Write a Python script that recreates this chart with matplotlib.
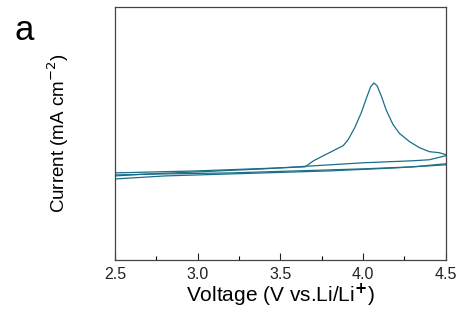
import numpy as np
import matplotlib.pyplot as plt
from matplotlib.ticker import MultipleLocator

plt.rcParams['font.family'] = ['Liberation Sans', 'DejaVu Sans']

# first cycle, anodic sweep (with the oxidation peak)
v_fwd1 = [2.5, 3.0, 3.5, 3.65, 3.70, 3.76, 3.82, 3.88, 3.91, 3.95, 3.99, 4.02, 4.045, 4.065,
          4.085, 4.11, 4.14, 4.18, 4.22, 4.28, 4.34, 4.40, 4.46, 4.5]
i_fwd1 = [0.0, 0.02, 0.05, 0.06, 0.12, 0.17, 0.22, 0.27, 0.33, 0.45, 0.60, 0.74, 0.85, 0.89,
          0.86, 0.76, 0.62, 0.48, 0.39, 0.31, 0.25, 0.21, 0.20, 0.18]
# first cycle, cathodic sweep
v_rev1 = [4.5, 4.2, 3.8, 3.4, 3.0, 2.8, 2.6, 2.5]
i_rev1 = [0.08, 0.05, 0.02, -0.0, -0.02, -0.03, -0.05, -0.06]
# second cycle, anodic sweep
v_fwd2 = [2.5, 2.7, 3.0, 3.4, 3.7, 4.0, 4.3, 4.4, 4.5]
i_fwd2 = [-0.03, -0.01, 0.01, 0.04, 0.07, 0.10, 0.12, 0.13, 0.17]
# second cycle, cathodic sweep
v_rev2 = [4.5, 4.3, 4.0, 3.6, 3.2, 2.8, 2.5]
i_rev2 = [0.09, 0.06, 0.04, 0.02, 0.0, -0.01, -0.02]

color = '#1b6e87'

fig = plt.figure(figsize=(4.62, 3.22), dpi=100)
ax = fig.add_axes([0.249, 0.193, 0.716, 0.785])

for v, i in [(v_fwd1, i_fwd1), (v_rev1, i_rev1), (v_fwd2, i_fwd2), (v_rev2, i_rev2)]:
    ax.plot(v, i, color=color, lw=0.9)

ax.set_xlim(2.5, 4.5)
ax.set_ylim(-0.86, 1.64)
ax.set_xticks([2.5, 3.0, 3.5, 4.0, 4.5])
ax.set_xticklabels(['2.5', '3.0', '3.5', '4.0', '4.5'])
ax.xaxis.set_minor_locator(MultipleLocator(0.25))
ax.set_yticks([])
ax.tick_params(axis='x', which='major', direction='in', length=5, width=0.8, labelsize=11.5, colors='#222222', pad=5)
ax.tick_params(axis='x', which='minor', direction='in', length=3, width=0.8)
for s in ax.spines.values():
    s.set_color('#444444')
    s.set_linewidth(0.9)

ax.set_xlabel('Voltage (V vs.Li/Li$^{\\mathbf{+}}$)', fontsize=15, labelpad=0)
ax.set_ylabel('Current (mA cm$^{-2}$)', fontsize=13.5, labelpad=32)
fig.text(0.053, 0.905, 'a', fontsize=25, ha='center', va='center')

fig.savefig('out.png', dpi=100)
